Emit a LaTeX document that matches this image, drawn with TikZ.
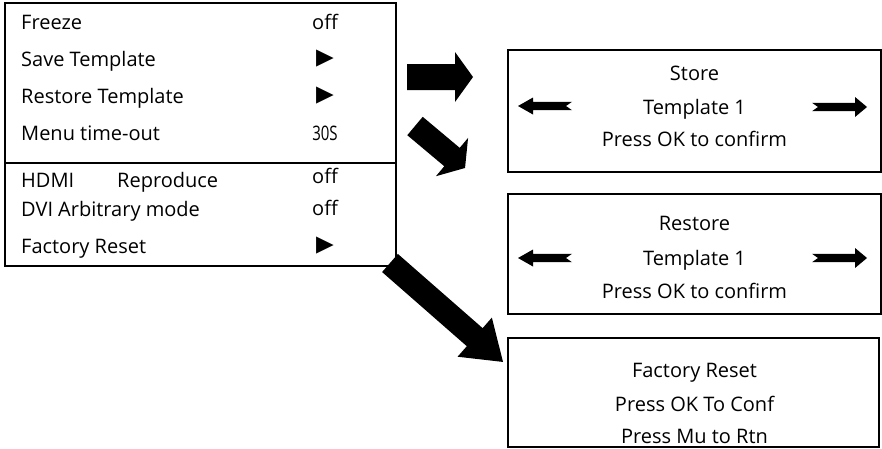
\documentclass[tikz,border=0pt]{standalone}
\usepackage{fontspec}
\usepackage{graphicx}
\setmainfont{Open Sans}
\newfontfamily\symfont{DejaVu Sans}
\newcommand{\menutri}{\scalebox{1}[1.5]{►}}
\begin{document}
\begin{tikzpicture}[x=1pt,y=-1pt,
  box/.style={draw, line width=2pt, rectangle, anchor=north west, inner sep=0pt, outer sep=0pt},
  lbl/.style={inner sep=0pt, anchor=base west, font=\fontsize{20}{24}\selectfont},
  ctr/.style={inner sep=0pt, anchor=base, font=\fontsize{20}{24}\selectfont},
  tri/.style={inner sep=0pt, anchor=center, font=\symfont\fontsize{23}{23}\selectfont},
  pics/blk/.style n args={4}{code={
    \fill (0,-#3) -- (#1-#2,-#3) -- (#1-#2,-#4) -- (#1,0) -- (#1-#2,#4) -- (#1-#2,#3) -- (0,#3) -- cycle;}},
  pics/larr/.style={code={
    \fill (-27,0) -- (-12,-8.5) -- (-12,-4.2) -- (27,-4.2) -- (21,0) -- (27,4.2) -- (-12,4.2) -- (-12,8.5) -- cycle;}},
  pics/rarr/.style={code={
    \fill (27.5,0) -- (15.5,-10) -- (15.5,-4.2) -- (-27.5,-4.2) -- (-21.5,0) -- (-27.5,4.2) -- (15.5,4.2) -- (15.5,10) -- cycle;}}
]
\useasboundingbox (0,0) rectangle (882,448);

% left menu
\node[box, minimum width=391pt, minimum height=263pt] (menu) at (5,3) {};
\draw[line width=2pt] (menu.west |- 0,163) coordinate (dl) -- (menu.east |- 0,163) coordinate (dr);

\node[lbl] (m1) at (21,29) {Freeze};
\node[lbl] (m2) at (21,66) {Save Template};
\node[lbl] (m3) at (21,103) {Restore Template};
\node[lbl] (m4) at (21,140) {Menu time-out};
\node[lbl] (m5) at (21,187) {\makebox[96pt][l]{HDMI}Reproduce};
\node[lbl] (m6) at (21,216) {DVI Arbitrary mode};
\node[lbl] (m7) at (21,253) {Factory Reset};

\node[ctr] (v1) at (325,29) {off};
\node[tri] (v2) at (325,59) {\menutri};
\node[tri] (v3) at (325,96) {\menutri};
\node[ctr] (v4) at (325,140) {\scalebox{0.75}[1]{30S}};
\node[ctr] (v5) at (325,183) {off};
\node[ctr] (v6) at (325,215) {off};
\node[tri] (v7) at (325,246) {\menutri};

% right boxes
\node[box, minimum width=373pt, minimum height=122pt] (store) at (508,50) {};
\node[box, minimum width=373pt, minimum height=120pt] (restore) at (508,194) {};
\node[box, minimum width=371pt, minimum height=109pt] (reset) at (508,338) {};

\node[ctr] (s1) at (694.5,80) {Store};
\node[ctr] (s2) at (694.5,114) {Template 1};
\node[ctr] (s3) at (694.5,146) {Press OK to confirm};

\node[ctr] (r1) at (694.5,230) {Restore};
\node[ctr] (r2) at (694.5,265) {Template 1};
\node[ctr] (r3) at (694.5,298) {Press OK to confirm};

\node[ctr] (f1) at (694.5,377) {Factory Reset};
\node[ctr] (f2) at (694.5,411) {Press OK To Conf};
\node[ctr] (f3) at (694.5,443) {Press Mu to Rtn};

% small arrows
\coordinate (sl) at (545,106);
\coordinate (sr) at (839.5,107);
\coordinate (rl) at (545,258);
\coordinate (rr) at (839.5,258);
\pic at (sl) {larr};
\pic at (sr) {rarr};
\pic at (rl) {larr};
\pic at (rr) {rarr};

% big block arrows
\coordinate (a1) at (407,77);
\coordinate (a2) at (415,126);
\coordinate (a3) at (390,263);
\pic at (a1) {blk={66}{18}{13}{25}};
\pic[rotate=-40] at (a2) {blk={65.3}{17}{12}{25}};
\pic[rotate=-41.2] at (a3) {blk={150.2}{37.6}{12}{26}};
\end{tikzpicture}
\end{document}
